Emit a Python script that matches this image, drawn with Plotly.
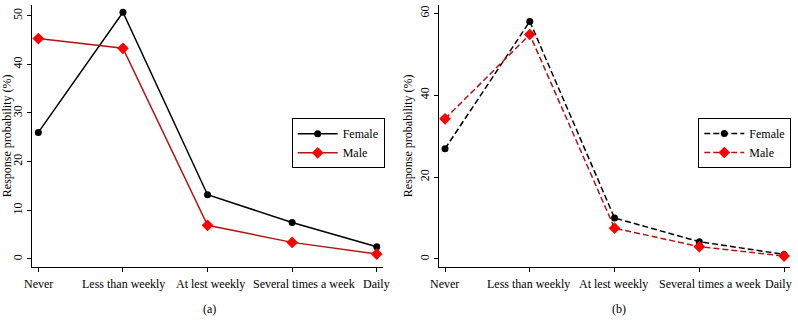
import plotly.graph_objects as go

categories = ["Never", "Less than weekly", "At lest weekly", "Several times a week", "Daily"]
female_a = [26.0, 50.7, 13.2, 7.5, 2.5]
male_a = [45.3, 43.3, 6.9, 3.4, 1.0]
female_b = [26.9, 58.0, 10.0, 4.2, 1.1]
male_b = [34.2, 54.8, 7.5, 3.0, 0.7]
yticks_a = [0, 10, 20, 30, 40, 50]
yticks_b = [0, 20, 40, 60]

W, H = 798, 320
FONT = "Liberation Serif, Times New Roman, serif"
FS = 12
MALE_LINE = "#b01414"
MALE_MARK = "#ff0000"

# small horizontal nudges (px) of category labels, as in the original layout
label_shift_a = [0, 1, 3, 12, 0]
label_shift_b = [-1, -1, -1.5, 11, -6]

def px(x):
    return x / W

def py(y):
    return (H - y) / H

fig = go.Figure()

xs = list(range(len(categories)))

fig.add_trace(go.Scatter(x=xs, y=female_a, mode="lines+markers", name="Female",
                         line=dict(color="black", width=1.5),
                         marker=dict(symbol="circle", size=7, color="black"),
                         xaxis="x", yaxis="y", legend="legend"))
fig.add_trace(go.Scatter(x=xs, y=male_a, mode="lines+markers", name="Male",
                         line=dict(color=MALE_LINE, width=1.5),
                         marker=dict(symbol="diamond", size=9, color=MALE_MARK),
                         xaxis="x", yaxis="y", legend="legend"))
fig.add_trace(go.Scatter(x=xs, y=female_b, mode="lines+markers", name="Female",
                         line=dict(color="black", width=1.5, dash="6px,3px"),
                         marker=dict(symbol="circle", size=7, color="black"),
                         xaxis="x2", yaxis="y2", legend="legend2"))
fig.add_trace(go.Scatter(x=xs, y=male_b, mode="lines+markers", name="Male",
                         line=dict(color=MALE_LINE, width=1.5, dash="6px,3px"),
                         marker=dict(symbol="diamond", size=9, color=MALE_MARK),
                         xaxis="x2", yaxis="y2", legend="legend2"))

axis_common = dict(showline=True, linecolor="black", linewidth=1, ticks="outside",
                   ticklen=4, tickwidth=1, tickcolor="black", showgrid=False,
                   zeroline=False, automargin=False,
                   tickfont=dict(family=FONT, size=FS, color="black"))

y_bottom = py(266.7)
y_top = py(5)

annotations = []
for xref, shifts in (("x", label_shift_a), ("x2", label_shift_b)):
    for i, cat in enumerate(categories):
        annotations.append(dict(text=cat, x=xs[i], xref=xref, y=py(284), yref="paper",
                                xanchor="center", yanchor="middle", xshift=shifts[i],
                                showarrow=False,
                                font=dict(family=FONT, size=FS, color="black")))
annotations += [
    dict(text="(a)", x=px(209), y=py(309), xref="paper", yref="paper",
         xanchor="center", yanchor="middle",
         showarrow=False, font=dict(family=FONT, size=FS, color="black")),
    dict(text="(b)", x=px(619), y=py(309), xref="paper", yref="paper",
         xanchor="center", yanchor="middle",
         showarrow=False, font=dict(family=FONT, size=FS, color="black")),
]

fig.update_layout(
    width=W, height=H,
    margin=dict(l=0, r=0, t=0, b=0),
    paper_bgcolor="white", plot_bgcolor="white",
    font=dict(family=FONT, size=FS, color="black"),
    hovermode=False,
    xaxis=dict(domain=[px(32), px(383)], range=[-0.075, 4.074],
               tickmode="array", tickvals=xs, showticklabels=False,
               anchor="y", **axis_common),
    yaxis=dict(domain=[y_bottom, y_top], range=[-1.6, 52.2],
               tickmode="array", tickvals=yticks_a, tickangle=-90,
               anchor="x",
               title=dict(text="Response probability (%)", standoff=2,
                          font=dict(family=FONT, size=FS, color="black")),
               **axis_common),
    xaxis2=dict(domain=[px(439), px(790)], range=[-0.071, 4.07],
                tickmode="array", tickvals=xs, showticklabels=False,
                anchor="y2", **axis_common),
    yaxis2=dict(domain=[y_bottom, y_top], range=[-1.9, 62.0],
                tickmode="array", tickvals=yticks_b, tickangle=-90,
                anchor="x2",
                title=dict(text="Response probability (%)", standoff=2,
                           font=dict(family=FONT, size=FS, color="black")),
                **axis_common),
    legend=dict(x=px(291.7), y=py(118.3), xanchor="left", yanchor="top",
                bordercolor="black", borderwidth=1, bgcolor="white",
                font=dict(family=FONT, size=FS, color="black"),
                tracegroupgap=0, itemwidth=40),
    legend2=dict(x=px(698.3), y=py(118), xanchor="left", yanchor="top",
                 bordercolor="black", borderwidth=1, bgcolor="white",
                 font=dict(family=FONT, size=FS, color="black"),
                 tracegroupgap=0, itemwidth=40),
    showlegend=True,
    annotations=annotations,
)

fig.write_html("out.html",
               config={"displayModeBar": False},
               post_script="document.body.style.margin='0px';document.body.style.overflow='hidden';")
